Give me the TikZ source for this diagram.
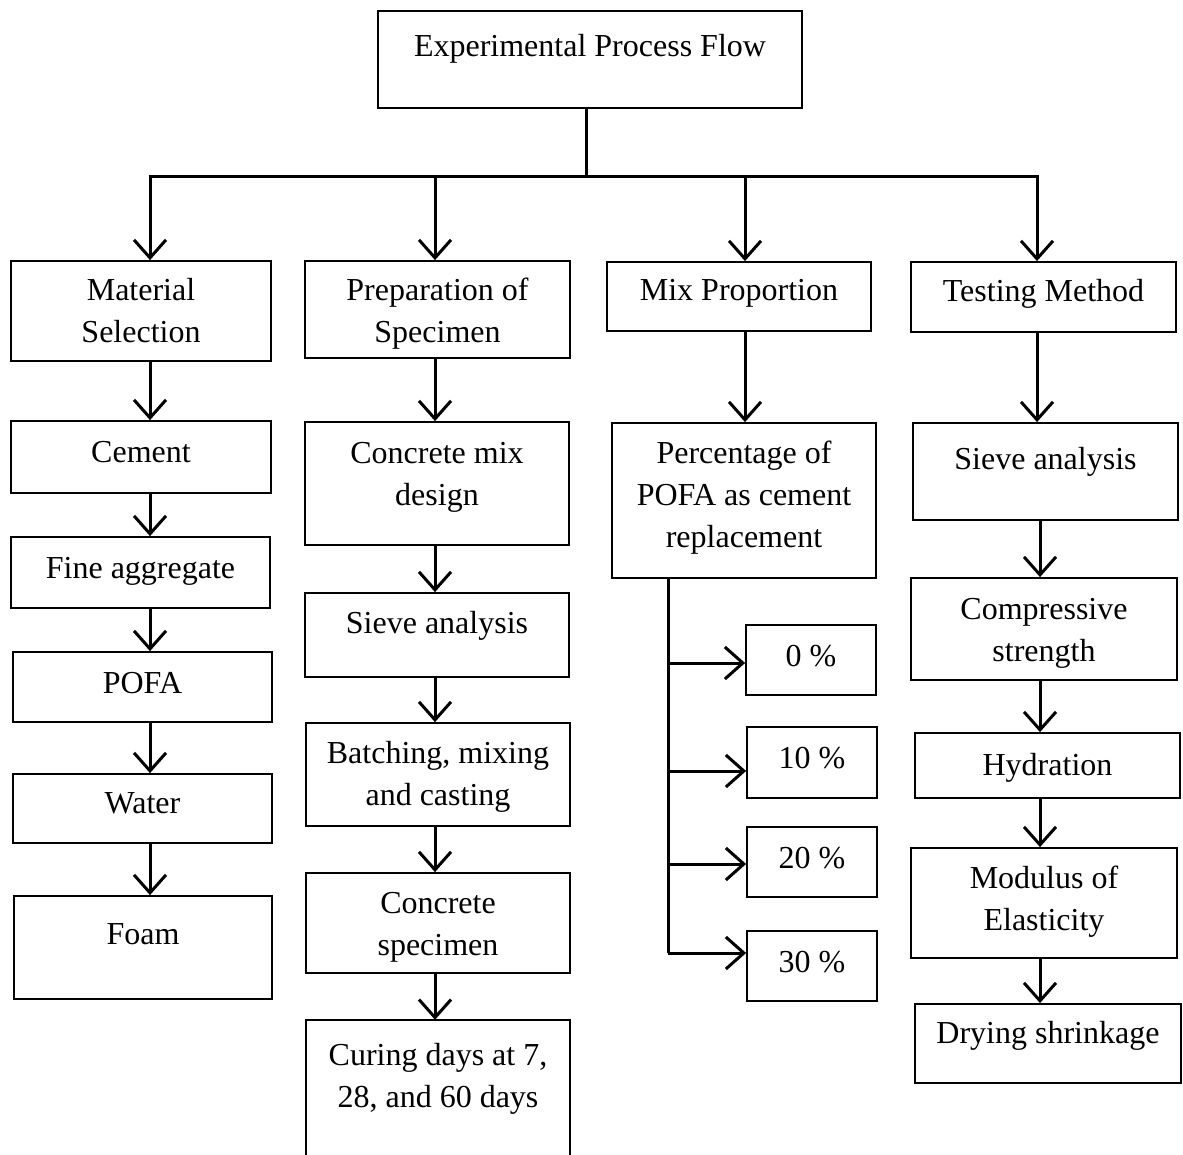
\documentclass[tikz,border=0pt]{standalone}
\usepackage{fontspec}
\setmainfont{Liberation Serif}
\usetikzlibrary{arrows.meta}
\newcommand\mlines[1]{\begin{tabular}[t]{@{}c@{}}#1\end{tabular}}
\begin{document}
\begin{tikzpicture}[x=1pt,y=-1pt,
  box/.style={draw, line width=1.8pt, inner sep=0pt, minimum width=#1},
  txt/.style={anchor=base, inner sep=0pt, font=\fontsize{32}{42}\selectfont},
  conn/.style={line width=3pt},
  arr/.style={line width=3pt, -{Straight Barb[length=18pt,width=32pt,line width=3pt]}}]
\useasboundingbox (0,0) rectangle (1183,1155);
% title
\node[box=424pt, minimum height=97pt] (title) at (590,59.5) {};
\node[txt] (titleT) at (590,57) {Experimental Process Flow};
% column 1
\node[box=260pt, minimum height=100pt] (mat) at (141,311) {};
\node[txt] (matT) at (141,301) {\mlines{Material\\Selection}};
\node[box=260pt, minimum height=72pt] (cem) at (141,457) {};
\node[txt] (cemT) at (141,462) {Cement};
\node[box=259pt, minimum height=71pt] (fine) at (140.5,572.5) {};
\node[txt] (fineT) at (140.5,578) {Fine aggregate};
\node[box=259pt, minimum height=70pt] (pofa) at (142.5,687) {};
\node[txt] (pofaT) at (142.5,693) {POFA};
\node[box=259pt, minimum height=69pt] (water) at (142.5,808.5) {};
\node[txt] (waterT) at (142.5,813) {Water};
\node[box=258pt, minimum height=103pt] (foam) at (143,947.5) {};
\node[txt] (foamT) at (143,944) {Foam};
% column 2
\node[box=265pt, minimum height=97pt] (prep) at (437.5,309.5) {};
\node[txt] (prepT) at (437.5,301) {\mlines{Preparation of\\Specimen}};
\node[box=264pt, minimum height=123pt] (cmd) at (437,483.5) {};
\node[txt] (cmdT) at (437,463) {\mlines{Concrete mix\\design}};
\node[box=264pt, minimum height=84pt] (sieveB) at (437,635) {};
\node[txt] (sieveBT) at (437,633) {Sieve analysis};
\node[box=264pt, minimum height=103pt] (batch) at (438,774.5) {};
\node[txt] (batchT) at (438,763) {\mlines{Batching, mixing\\and casting}};
\node[box=264pt, minimum height=100pt] (spec) at (438,923) {};
\node[txt] (specT) at (438,913) {\mlines{Concrete\\specimen}};
\node[inner sep=0pt, minimum width=264pt, minimum height=150pt] (cur) at (438,1095) {};
\draw[line width=1.8pt] (cur.south west) -- (cur.north west) -- (cur.north east) -- (cur.south east);
\node[txt] (curT) at (438,1065) {\mlines{Curing days at 7,\\28, and 60 days}};
% column 3
\node[box=264pt, minimum height=69pt] (mix) at (739,296.5) {};
\node[txt] (mixT) at (739,301) {Mix Proportion};
\node[box=264pt, minimum height=155pt] (pct) at (744,500.5) {};
\node[txt] (pctT) at (744,463) {\mlines{Percentage of\\POFA as cement\\replacement}};
\node[box=130pt, minimum height=70pt] (p0) at (811,660) {};
\node[txt] (p0T) at (811,666) {0 \%};
\node[box=130pt, minimum height=71pt] (p10) at (812,762.5) {};
\node[txt] (p10T) at (812,768) {10 \%};
\node[box=130pt, minimum height=70pt] (p20) at (812,862) {};
\node[txt] (p20T) at (812,868) {20 \%};
\node[box=130pt, minimum height=70pt] (p30) at (812,966) {};
\node[txt] (p30T) at (812,972) {30 \%};
% column 4
\node[box=265pt, minimum height=70pt] (test) at (1043.5,297) {};
\node[txt] (testT) at (1043.5,302) {Testing Method};
\node[box=265pt, minimum height=97pt] (sieveD) at (1045.5,471.5) {};
\node[txt] (sieveDT) at (1045.5,469) {Sieve analysis};
\node[box=266pt, minimum height=102pt] (comp) at (1044,629) {};
\node[txt] (compT) at (1044,619) {\mlines{Compressive\\strength}};
\node[box=265pt, minimum height=65pt] (hyd) at (1047.5,765.5) {};
\node[txt] (hydT) at (1047.5,775) {Hydration};
\node[box=266pt, minimum height=110pt] (mod) at (1044,903) {};
\node[txt] (modT) at (1044,888) {\mlines{Modulus of\\Elasticity}};
\node[box=266pt, minimum height=79pt] (dry) at (1048,1043.5) {};
\node[txt] (dryT) at (1048,1043) {Drying shrinkage};
% coordinates
\coordinate (hub) at (586,177);
\coordinate (c1) at (150,177);
\coordinate (c2) at (435,177);
\coordinate (c3) at (745,177);
\coordinate (c4) at (1037,177);
\coordinate (c4b) at (1040,177);
\coordinate (sp) at (668,177);
\coordinate (b0) at (668,663);
\coordinate (b1) at (668,771);
\coordinate (b2) at (668,864);
\coordinate (b3) at (668,953);
% top connectors
\draw[conn] (title.south -| hub) -- (hub);
\draw[conn, line cap=rect] (c1) -- (c4);
\draw[arr] (c1) -- (mat.north -| c1);
\draw[arr] (c2) -- (prep.north -| c2);
\draw[arr] (c3) -- (mix.north -| c3);
\draw[arr] (c4) -- (test.north -| c4);
% column 1
\draw[arr] (mat.south -| c1) -- (cem.north -| c1);
\draw[arr] (cem.south -| c1) -- (fine.north -| c1);
\draw[arr] (fine.south -| c1) -- (pofa.north -| c1);
\draw[arr] (pofa.south -| c1) -- (water.north -| c1);
\draw[arr] (water.south -| c1) -- (foam.north -| c1);
% column 2
\draw[arr] (prep.south -| c2) -- (cmd.north -| c2);
\draw[arr] (cmd.south -| c2) -- (sieveB.north -| c2);
\draw[arr] (sieveB.south -| c2) -- (batch.north -| c2);
\draw[arr] (batch.south -| c2) -- (spec.north -| c2);
\draw[arr] (spec.south -| c2) -- (cur.north -| c2);
% column 3
\draw[arr] (mix.south -| c3) -- (pct.north -| c3);
\draw[conn] (pct.south -| sp) -- (b3);
\draw[arr] (b0) -- (p0.west |- b0);
\draw[arr] (b1) -- (p10.west |- b1);
\draw[arr] (b2) -- (p20.west |- b2);
\draw[arr] (b3) -- (p30.west |- b3);
% column 4
\draw[arr] (test.south -| c4) -- (sieveD.north -| c4);
\draw[arr] (sieveD.south -| c4b) -- (comp.north -| c4b);
\draw[arr] (comp.south -| c4b) -- (hyd.north -| c4b);
\draw[arr] (hyd.south -| c4b) -- (mod.north -| c4b);
\draw[arr] (mod.south -| c4b) -- (dry.north -| c4b);
\end{tikzpicture}
\end{document}
